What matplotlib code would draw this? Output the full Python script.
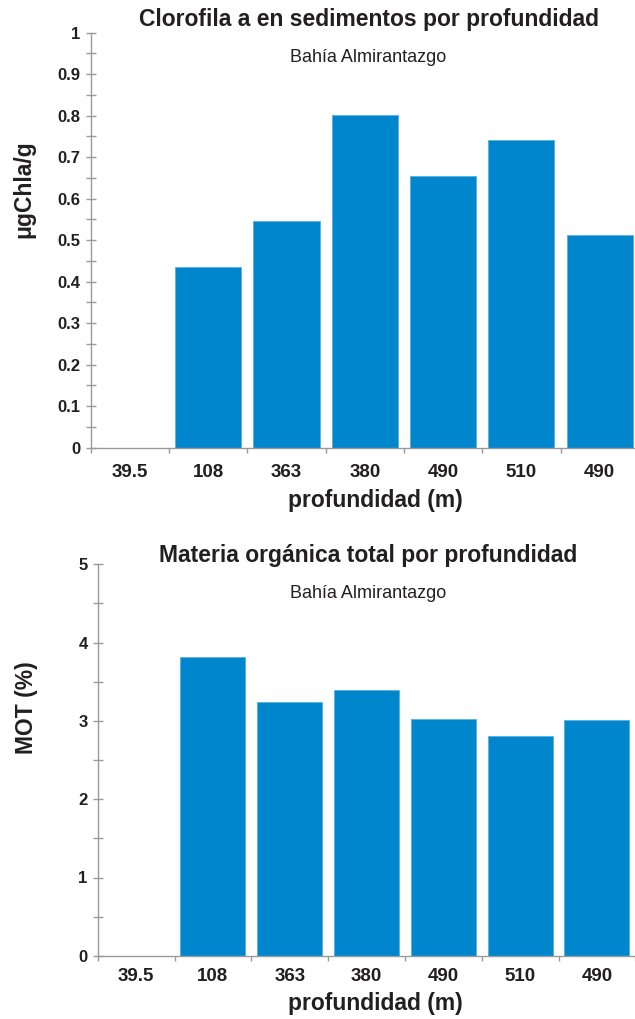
import matplotlib
matplotlib.use("Agg")
import matplotlib.pyplot as plt
from matplotlib.ticker import MultipleLocator, FixedLocator, NullFormatter, FuncFormatter

plt.rcParams['font.family'] = ['Liberation Sans', 'DejaVu Sans']

depths = ["39.5", "108", "363", "380", "490", "510", "490"]
chla = [0.0, 0.435, 0.546, 0.802, 0.654, 0.741, 0.512]
mot = [0.0, 3.82, 3.24, 3.40, 3.03, 2.81, 3.01]

W, H = 635, 1019
BAR = "#0086CD"
TXT = "#231f20"
AX = "#9a9a9a"

fig = plt.figure(figsize=(W / 100, H / 100), dpi=100)


def px_axes(x0, y_top, width, y_bot):
    return fig.add_axes([x0 / W, 1 - y_bot / H, width / W, (y_bot - y_top) / H])


def draw_panel(ax, values, ymax, major, minor, fmt, xpad):
    n = len(depths)
    ax.bar(range(n), values, width=0.845,
           color=BAR, edgecolor="#5bb0e0", linewidth=0.6)
    ax.set_xlim(-0.5, n - 0.5)
    ax.set_ylim(0, ymax)
    for s in ("top", "right"):
        ax.spines[s].set_visible(False)
    for s in ("left", "bottom"):
        ax.spines[s].set_color(AX)
        ax.spines[s].set_linewidth(1.0)
    # category boundaries carry the tick marks, centres carry the labels
    ax.xaxis.set_major_locator(FixedLocator([i - 0.5 for i in range(n + 1)]))
    ax.xaxis.set_major_formatter(NullFormatter())
    ax.xaxis.set_minor_locator(FixedLocator(list(range(n))))
    ax.set_xticklabels(depths, minor=True)
    ax.tick_params(axis="x", which="major", direction="out", length=3.8,
                   color=AX, width=1.0)
    ax.tick_params(axis="x", which="minor", length=0, pad=xpad,
                   labelsize=13.5, labelcolor=TXT)
    for lab in ax.get_xticklabels(minor=True):
        lab.set_fontweight("bold")
    ax.yaxis.set_major_locator(MultipleLocator(major))
    ax.yaxis.set_minor_locator(MultipleLocator(minor))
    ax.yaxis.set_major_formatter(FuncFormatter(fmt))
    ax.tick_params(axis="y", which="both", direction="inout", length=6.5,
                   color=AX, width=1.0, labelsize=12, labelcolor=TXT, pad=4)
    for lab in ax.get_yticklabels():
        lab.set_fontweight("bold")


def fmt_chla(v, p):
    if abs(v) < 1e-9:
        return "0"
    if abs(v - 1) < 1e-9:
        return "1"
    return f"{v:.1f}"


# Chlorophyll a panel
ax1 = px_axes(90.7, 32.7, 548.1, 447.7)
draw_panel(ax1, chla, 1.0, 0.1, 0.05, fmt_chla, 11.5)

# Total organic matter panel
ax2 = px_axes(97.7, 564.3, 537.6, 955.8)
draw_panel(ax2, mot, 5.0, 1.0, 0.5, lambda v, p: f"{v:.0f}", 8.5)

# Titles and axis labels
fig.text(369 / W, 1 - 26 / H, "Clorofila a en sedimentos por profundidad",
         ha="center", va="baseline", fontsize=16.5, fontweight="bold", color=TXT)
fig.text(368 / W, 1 - 62.5 / H, "Bahía Almirantazgo", ha="center", va="baseline",
         fontsize=13, color=TXT)
fig.text(24 / W, 1 - 189 / H, "μgChla/g", ha="center", va="center",
         rotation=90, fontsize=16.5, fontweight="bold", color=TXT)
fig.text(375 / W, 1 - 506.5 / H, "profundidad (m)", ha="center", va="baseline",
         fontsize=16.5, fontweight="bold", color=TXT)

fig.text(368 / W, 1 - 562 / H, "Materia orgánica total por profundidad",
         ha="center", va="baseline", fontsize=16.5, fontweight="bold", color=TXT)
fig.text(368 / W, 1 - 598 / H, "Bahía Almirantazgo", ha="center", va="baseline",
         fontsize=13, color=TXT)
fig.text(26 / W, 1 - 708 / H, "MOT (%)", ha="center", va="center",
         rotation=90, fontsize=16.5, fontweight="bold", color=TXT)
fig.text(375 / W, 1 - 1010 / H, "profundidad (m)", ha="center", va="baseline",
         fontsize=16.5, fontweight="bold", color=TXT)

fig.savefig("out.png", dpi=100)
